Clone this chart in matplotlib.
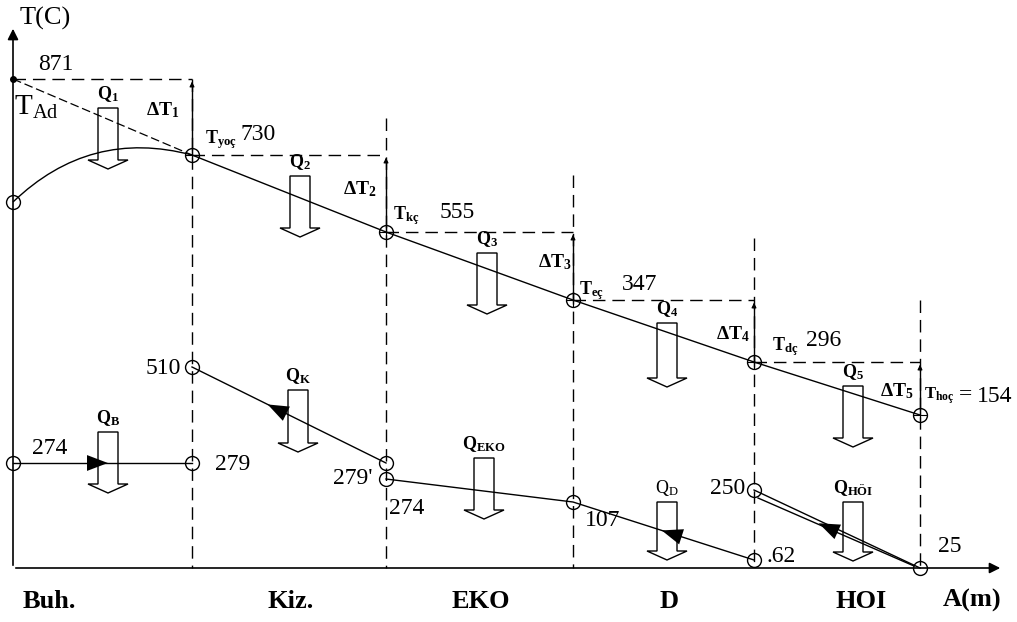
import matplotlib

matplotlib.use("Agg")
import matplotlib.pyplot as plt
from matplotlib.patches import Polygon, PathPatch
from matplotlib.path import Path

plt.rcParams["font.family"] = ["Liberation Serif", "DejaVu Serif"]
plt.rcParams["mathtext.fontset"] = "custom"
plt.rcParams["mathtext.rm"] = "Liberation Serif"
plt.rcParams["mathtext.bf"] = "Liberation Serif:bold"
plt.rcParams["mathtext.it"] = "Liberation Serif:italic"

# --- data -------------------------------------------------------------
sections = ["Buh.", "Kiz.", "EKO", "D", "HOI"]
gas_temps = [871, 730, 555, 347, 296, 154]
gas_subs = ["Ad", "yoç", "kç", "eç", "dç", "hoç"]
heat_flows = ["1", "2", "3", "4", "5"]

feed_temps = [274, 279]          # Buh. water
steam_temps = [510, 279]         # Kiz. steam (279')
eco_temps = [274, 107, 62]       # EKO + D water
air_temps = [250, 25]            # HOI air
side_flows = ["B", "K", "EKO", "D", "HÖI"]

# --- schematic layout (pixel-like canvas) -----------------------------
X_EDGE = [13, 192, 386, 573, 754, 920]
GAS_Y = [79, 155, 232, 300, 362, 415]
DASH_TOP = [79, 118, 175, 238, 300]
FEED_Y = [463, 463]
STEAM_Y = [367, 463]
ECO_Y = [479, 502, 560]
AIR_Y = [490, 568]
BASE_Y = 568

fig = plt.figure(figsize=(10.17, 6.22), dpi=100)
ax = fig.add_axes([0, 0, 1, 1])
ax.set_xlim(0, 1017)
ax.set_ylim(622, 0)
ax.axis("off")

K = "black"

# axes
ax.annotate("", xy=(13, 26), xytext=(13, BASE_Y),
            arrowprops=dict(arrowstyle="-|>", color=K, lw=1.2, mutation_scale=16))
ax.annotate("", xy=(1003, BASE_Y), xytext=(13, BASE_Y),
            arrowprops=dict(arrowstyle="-|>", color=K, lw=1.2, mutation_scale=16))
ax.text(20, 18, "T(C)", fontsize=19, ha="left", va="center")
ax.text(943, 600, "A(m)", fontsize=19, fontweight="bold", ha="left", va="center")

# section boundaries (dashed)
for x, top in zip(X_EDGE[1:], DASH_TOP):
    ax.plot([x, x], [top, BASE_Y], color=K, lw=1, ls=(0, (9, 5)))

# horizontal dashed levels + delta T arrows
for i in range(5):
    x0, x1 = X_EDGE[i], X_EDGE[i + 1]
    ax.plot([x0, x1], [GAS_Y[i], GAS_Y[i]], color=K, lw=1, ls=(0, (9, 5)))
    ax.plot([x1, x1], [GAS_Y[i + 1], GAS_Y[i] + 6], color=K, lw=1)
    ax.annotate("", xy=(x1, GAS_Y[i]), xytext=(x1, GAS_Y[i] + 8),
                arrowprops=dict(arrowstyle="-|>", color=K, lw=0.8, mutation_scale=7))

# gas line
ax.plot(X_EDGE[1:], GAS_Y[1:], color=K, lw=1)
ax.plot([X_EDGE[0], X_EDGE[1]], [GAS_Y[0], GAS_Y[1]], color=K, lw=0.9, ls=(0, (7, 3)))
ax.plot(X_EDGE[0], GAS_Y[0], "o", color=K, ms=4)
ax.plot(X_EDGE[1:], GAS_Y[1:], "o", mfc="none", mec=K, ms=10, mew=1)
ax.plot(X_EDGE[1:], GAS_Y[1:], "+", color=K, ms=10, mew=0.8)

# real combustion curve in boiler
curve = Path([(13, 202), (90, 128), (192, 155)], [Path.MOVETO, Path.CURVE3, Path.CURVE3])
ax.add_patch(PathPatch(curve, fc="none", ec=K, lw=1))
ax.plot(13, 202, "o", mfc="none", mec=K, ms=10, mew=1)


# water / steam / air lines
def flow(xs, ys):
    ax.plot(xs, ys, color=K, lw=1)
    ax.plot(xs, ys, "o", mfc="none", mec=K, ms=10, mew=1)


def flow_arrow(xs, ys, tip, tail):
    """Filled arrowhead on segment xs/ys, tip and tail given as fractions."""
    def at(f):
        return (xs[0] + f * (xs[1] - xs[0]), ys[0] + f * (ys[1] - ys[0]))
    ax.annotate("", xy=at(tip), xytext=at(tail),
                arrowprops=dict(arrowstyle="-|>,head_length=1.0,head_width=0.38",
                                color=K, lw=0.01, mutation_scale=15,
                                shrinkA=0, shrinkB=0), zorder=5)


flow(X_EDGE[0:2], FEED_Y)
flow_arrow(X_EDGE[0:2], FEED_Y, 0.53, 0.40)
flow(X_EDGE[1:3], STEAM_Y)
flow_arrow(X_EDGE[1:3], STEAM_Y, 0.39, 0.50)
flow(X_EDGE[2:5], ECO_Y)
flow_arrow(X_EDGE[3:5], ECO_Y[1:3], 0.49, 0.61)
# air heater: double line
ax.plot([X_EDGE[4], X_EDGE[5]], [AIR_Y[0], AIR_Y[1]], color=K, lw=1)
ax.plot([X_EDGE[4] + 4, X_EDGE[5] - 6], [AIR_Y[0] + 8, AIR_Y[1] - 2], color=K, lw=1)
ax.plot(X_EDGE[4:6], AIR_Y, "o", mfc="none", mec=K, ms=10, mew=1)
flow_arrow(X_EDGE[4:6], [AIR_Y[0] + 4, AIR_Y[1] + 1], 0.39, 0.51)


# hollow heat-flow arrows
def heat_arrow(xc, top, bottom, label):
    w, hw, tip = 10, 20, 9
    pts = [(xc - w, top), (xc + w, top), (xc + w, bottom), (xc + hw, bottom),
           (xc, bottom + tip), (xc - hw, bottom), (xc - w, bottom)]
    ax.add_patch(Polygon(pts, closed=True, fc="none", ec=K, lw=1, zorder=3))
    ax.text(xc, top - 14, label, fontsize=13, ha="center", va="center", zorder=4)


Q_X = [108, 300, 487, 667, 853]
Q_TOP = [108, 176, 253, 323, 386]
Q_BOT = [160, 228, 305, 378, 438]
for xc, t, b, s in zip(Q_X, Q_TOP, Q_BOT, heat_flows):
    heat_arrow(xc, t, b, r"$\mathbf{Q}_{\mathbf{%s}}$" % s)

S_TOP = [432, 390, 458, 502, 502]
S_BOT = [484, 443, 510, 551, 552]
S_X = [108, 298, 484, 667, 853]
for xc, t, b, s in zip(S_X, S_TOP, S_BOT, side_flows):
    lab = r"$\mathrm{Q}_{\mathrm{D}}$" if s == "D" else r"$\mathbf{Q}_{\mathbf{%s}}$" % s
    heat_arrow(xc, t, b, lab)

# gas labels
NUM = 17
ax.text(38, 64, str(gas_temps[0]), fontsize=NUM, ha="left", va="center")
ax.text(14, 107, r"$\mathrm{T}_{\mathrm{%s}}$" % gas_subs[0], fontsize=21,
        ha="left", va="center")
dt_pos = [(146, 110), (343, 189), (538, 262), (716, 334), (880, 391)]
for (x, y), s in zip(dt_pos, heat_flows):
    ax.text(x, y, r"$\mathbf{\Delta T}_{\mathbf{%s}}$" % s, fontsize=14, ha="left", va="center")

lab_pos = [(205, 140), (393, 216), (579, 291), (772, 347), (924, 396)]
num_pos = [(241, 135), (440, 212), (622, 285), (806, 340), (1012, 396)]
for i in range(1, 5):
    ax.text(*lab_pos[i - 1], r"$\mathbf{T}_{\mathbf{%s}}$" % gas_subs[i],
            fontsize=13, ha="left", va="center")
    ax.text(*num_pos[i - 1], str(gas_temps[i]), fontsize=NUM, ha="left", va="center")
ax.text(*lab_pos[4], r"$\mathbf{T}_{\mathbf{%s}}$" % gas_subs[5],
        fontsize=12, ha="left", va="center")
ax.text(966, 395, "=", fontsize=NUM, ha="center", va="center")
ax.text(*num_pos[4], str(gas_temps[5]), fontsize=NUM, ha="right", va="center")

# water / steam / air labels
ax.text(32, 449, str(feed_temps[0]), fontsize=NUM, ha="left", va="center")
ax.text(215, 465, str(feed_temps[1]), fontsize=NUM, ha="left", va="center")
ax.text(181, 368, str(steam_temps[0]), fontsize=NUM, ha="right", va="center")
ax.text(333, 479, f"{steam_temps[1]}'", fontsize=NUM, ha="left", va="center")
ax.text(389, 509, str(eco_temps[0]), fontsize=NUM, ha="left", va="center")
ax.text(585, 520, str(eco_temps[1]), fontsize=NUM, ha="left", va="center")
ax.text(766, 557, "." + str(eco_temps[2]), fontsize=NUM, ha="left", va="center")
ax.text(745, 488, str(air_temps[0]), fontsize=NUM, ha="right", va="center")
ax.text(938, 547, str(air_temps[1]), fontsize=NUM, ha="left", va="center")

# section names
SEC_X = [49, 291, 481, 669, 861]
for x, s in zip(SEC_X, sections):
    ax.text(x, 601, s, fontsize=19, fontweight="bold", ha="center", va="center")

fig.savefig("out.png", dpi=100, facecolor="white")
